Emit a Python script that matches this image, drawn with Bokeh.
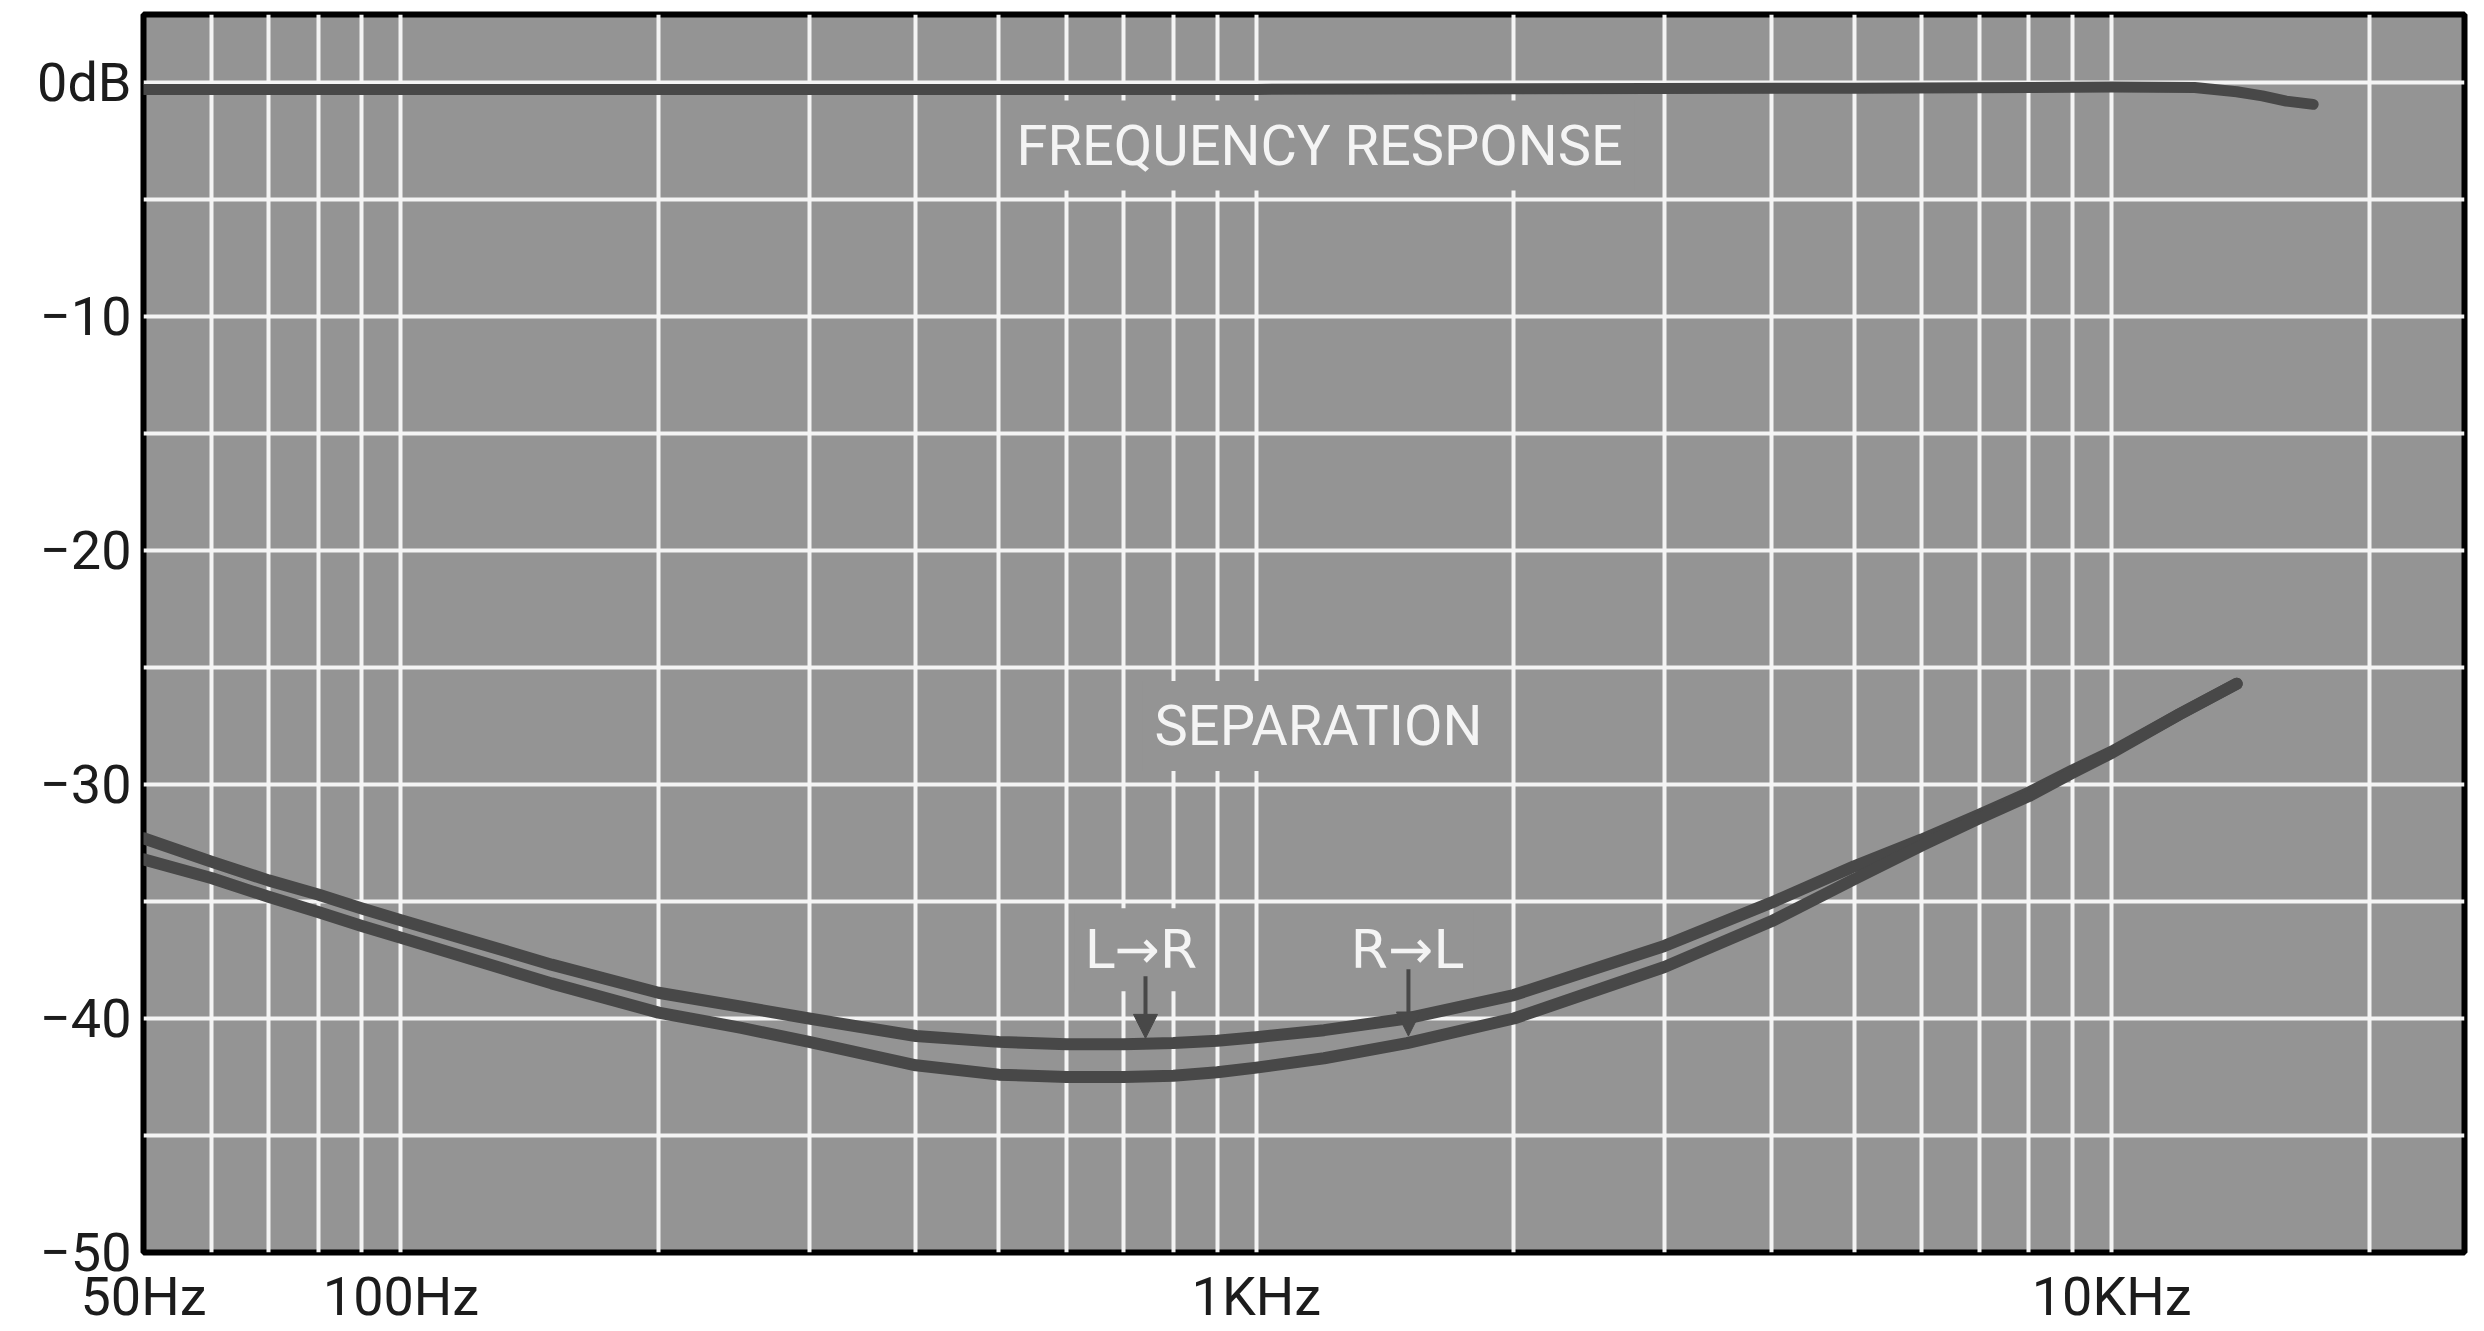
from bokeh.plotting import figure
from bokeh.models import Range1d, FixedTicker, Label, Arrow, NormalHead
from bokeh.embed import file_html
from bokeh.resources import INLINE

# ---- data ----
resp_freq = [50, 100, 1000, 5000, 10000, 12500, 14000, 15000, 16000, 17200]
resp_db = [-0.3, -0.3, -0.3, -0.25, -0.2, -0.22, -0.4, -0.58, -0.8, -0.94]

sep_freq = [50, 60, 70, 80, 90, 100, 150, 200, 250, 300, 400, 500, 600, 700, 800, 900,
            1000, 1200, 1500, 2000, 3000, 4000, 5000, 6000, 7000, 8000, 9000, 10000, 12000, 14000]
sep_l_to_r = [-32.3, -33.3, -34.1, -34.7, -35.3, -35.8, -37.7, -38.9, -39.5, -40.0, -40.75, -41.0,
              -41.1, -41.1, -41.05, -40.95, -40.8, -40.5, -40.0, -39.0, -36.9, -35.05, -33.5,
              -32.35, -31.3, -30.35, -29.4, -28.6, -27.0, -25.7]
sep_r_to_l = [-33.2, -34.0, -34.8, -35.45, -36.05, -36.55, -38.5, -39.75, -40.4, -41.0, -42.0, -42.4,
              -42.5, -42.5, -42.45, -42.3, -42.1, -41.7, -41.05, -40.0, -37.8, -35.85, -34.05,
              -32.6, -31.45, -30.5, -29.5, -28.65, -27.0, -25.7]

x_tick_vals = [50, 100, 1000, 10000]
x_tick_labels = ["50Hz", "100Hz", "1KHz", "10KHz"]
y_tick_vals = [0, -10, -20, -30, -40, -50]
y_tick_labels = ["0dB", "\u221210", "\u221220", "\u221230", "\u221240", "\u221250"]

grid_freqs = [60, 70, 80, 90, 100, 200, 300, 400, 500, 600, 700, 800, 900, 1000,
              2000, 3000, 4000, 5000, 6000, 7000, 8000, 9000, 10000, 20000]
grid_db = [0, -5, -10, -15, -20, -25, -30, -35, -40, -45]

# annotation texts and anchor points (frequency, dB)
title_texts = ["FREQUENCY RESPONSE", "SEPARATION"]
title_freq = [1186, 1182]
title_db = [-2.7, -27.5]
dir_texts = ["L\u2192R", "R\u2192L"]
dir_freq = [733, 1500]
dir_db = [-37.06, -37.06]
arrow_freq = [742, 1506]
arrow_from_db = [-38.2, -37.9]
arrow_to_db = [-40.85, -40.75]

BG = "#949494"
INK = "#484848"
WHITE = "#f4f4f4"
FONT = "Roboto"

p = figure(x_axis_type="log", x_range=Range1d(50, 25850), y_range=Range1d(-50, 2.9),
           frame_width=2321, frame_height=1238,
           min_border_left=143, min_border_right=8, min_border_top=14, min_border_bottom=0,
           toolbar_location=None, output_backend="svg")

p.background_fill_color = BG
p.border_fill_color = "white"
p.outline_line_color = "black"
p.outline_line_width = 6

p.xgrid.ticker = FixedTicker(ticks=grid_freqs)
p.ygrid.ticker = FixedTicker(ticks=grid_db)
p.grid.grid_line_color = WHITE
p.grid.grid_line_width = 4
p.grid.grid_line_alpha = 1.0

p.xaxis.ticker = FixedTicker(ticks=x_tick_vals)
p.xaxis.major_label_overrides = dict(zip(x_tick_vals, x_tick_labels))
p.yaxis.ticker = FixedTicker(ticks=y_tick_vals)
p.yaxis.major_label_overrides = dict(zip(y_tick_vals, y_tick_labels))
p.axis.axis_line_color = None
p.axis.major_tick_line_color = None
p.axis.minor_tick_line_color = None
p.axis.major_tick_in = 0
p.axis.major_tick_out = 0
p.axis.major_label_text_font = FONT
p.axis.major_label_text_font_size = "54px"
p.axis.major_label_text_color = "#1c1c1c"
p.xaxis.major_label_standoff = 12
p.yaxis.major_label_standoff = 12

p.line(resp_freq, resp_db, line_width=11, line_color=INK, line_cap="round", line_join="round")
p.line(sep_freq, sep_l_to_r, line_width=12, line_color=INK, line_cap="round", line_join="round")
p.line(sep_freq, sep_r_to_l, line_width=12, line_color=INK, line_cap="round", line_join="round")

for t, f, d in zip(title_texts, title_freq, title_db):
    p.add_layout(Label(x=f, y=d, text=t, text_align="center", text_baseline="middle",
                       text_color=WHITE, text_font=FONT, text_font_size="56px",
                       background_fill_color=BG, background_fill_alpha=1.0, padding=12))

for t, f, d in zip(dir_texts, dir_freq, dir_db):
    p.add_layout(Label(x=f, y=d, text=t, text_align="center", text_baseline="middle",
                       text_color=WHITE, text_font="DejaVu Sans", text_font_size="54px",
                       background_fill_color=BG, background_fill_alpha=1.0, padding=10))

for f, d0, d1 in zip(arrow_freq, arrow_from_db, arrow_to_db):
    p.add_layout(Arrow(end=NormalHead(size=24, fill_color=INK, line_color=INK),
                       x_start=f, y_start=d0, x_end=f, y_end=d1,
                       line_color=INK, line_width=4))

open("out.html", "w").write(file_html(p, INLINE))
